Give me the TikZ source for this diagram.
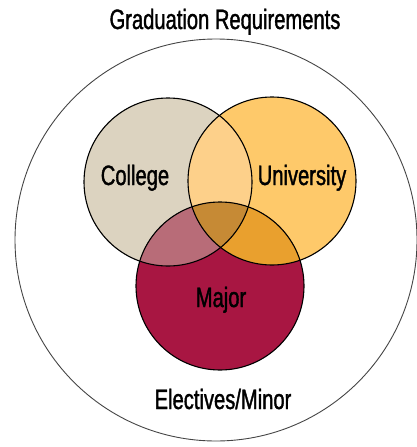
\documentclass[tikz,border=0pt]{standalone}
\usepackage{fontspec}
\setmainfont[FakeStretch=0.72,FakeBold=1.3]{Liberation Sans}
\definecolor{colC}{HTML}{DCD3C0}
\definecolor{colU}{HTML}{FEC96A}
\definecolor{colM}{HTML}{A81642}
\definecolor{colCU}{HTML}{FDD08A}
\definecolor{colCM}{HTML}{B86C78}
\definecolor{colUM}{HTML}{E9A02E}
\definecolor{colCUM}{HTML}{C68A35}
\definecolor{outerline}{HTML}{444444}
\begin{document}
\begin{tikzpicture}[x=1pt,y=-1pt,
  vennline/.style={draw=black, line width=1.1pt},
  lbl/.style={font=\fontsize{28}{32}\selectfont, anchor=base, inner sep=0pt}]
\useasboundingbox (0,0) rectangle (417,447);
\coordinate (O) at (216,240);
\coordinate (C) at (168,182);
\coordinate (U) at (272,181);
\coordinate (M) at (220,286);
% outer circle
\draw[outerline, line width=0.9pt] (O) circle (201);
% base fills
\fill[colC] (C) circle (84);
\fill[colU] (U) circle (84);
\fill[colM] (M) circle (84);
% overlaps
\begin{scope}\clip (C) circle (84); \fill[colCU] (U) circle (84);\end{scope}
\begin{scope}\clip (C) circle (84); \fill[colCM] (M) circle (84);\end{scope}
\begin{scope}\clip (U) circle (84); \fill[colUM] (M) circle (84);\end{scope}
\begin{scope}\clip (C) circle (84); \clip (U) circle (84); \fill[colCUM] (M) circle (84);\end{scope}
% outlines
\draw[vennline] (C) circle (84);
\draw[vennline] (U) circle (84);
\draw[vennline] (M) circle (84);
% labels
\node[lbl] (title) at (225,29) {Graduation Requirements};
\node[lbl] (college) at (135,185) {College};
\node[lbl] (university) at (302,185) {University};
\node[lbl] (major) at (221,307) {Major};
\node[lbl] (electives) at (223,409) {Electives/Minor};
\end{tikzpicture}
\end{document}
